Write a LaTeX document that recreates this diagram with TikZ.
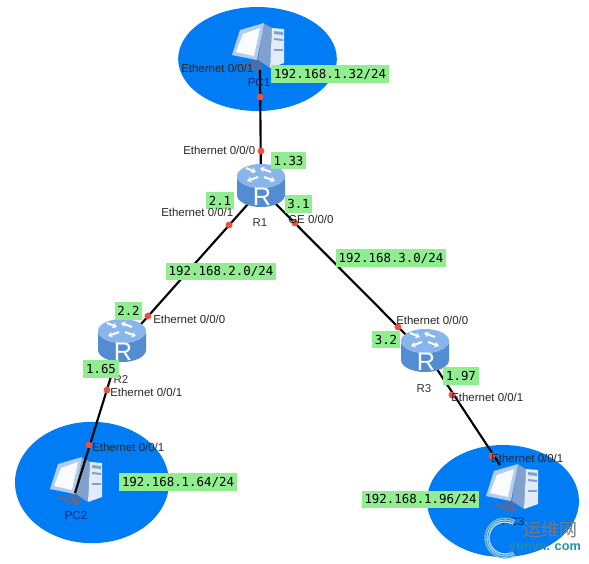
\documentclass[tikz,border=0pt]{standalone}
\usepackage{fontspec}
\setmainfont{Liberation Sans}
\newfontfamily\ipfont{DejaVu Sans Mono}
\newfontfamily\cjkfont{Noto Sans CJK SC}
\usetikzlibrary{shapes.geometric,arrows.meta,positioning,calc}
\definecolor{lanblue}{RGB}{0,125,245}
\definecolor{ipgreen}{RGB}{144,238,144}
\definecolor{portred}{RGB}{236,80,66}
\definecolor{pcnavy}{RGB}{12,40,110}
\definecolor{routertop}{RGB}{136,182,236}
\definecolor{routermid}{RGB}{130,184,242}
\definecolor{routerdark}{RGB}{84,140,210}
\definecolor{pcdark}{RGB}{130,160,205}
\definecolor{pcbase}{RGB}{70,110,170}
\definecolor{pclight}{RGB}{226,235,246}
\definecolor{pcframe}{RGB}{178,206,238}
\definecolor{marktext}{RGB}{120,120,125}
\definecolor{markteal}{RGB}{40,140,170}
\tikzset{
  lan/.style    ={ellipse, fill=lanblue, inner sep=0pt},
  link/.style   ={line width=1.6pt, draw=black},
  port/.style   ={circle, fill=portred, inner sep=0pt, minimum size=5.2pt},
  iflbl/.style  ={font=\fontsize{8.6}{10}\selectfont, inner sep=0pt, text=black!85},
  devlbl/.style ={font=\fontsize{8.6}{10}\selectfont, inner sep=0pt, text=black!80},
  pclbl/.style  ={font=\fontsize{8.6}{10}\selectfont, inner sep=0pt, text=pcnavy},
  iplbl/.style  ={fill=ipgreen, font=\ipfont\fontsize{9.3}{11}\selectfont, inner xsep=2pt,
                  inner ysep=0pt, minimum height=13pt},
  rarrow/.style ={white, line width=1.5pt, -{Stealth[length=3.4pt,width=4.6pt]}},
  router/.pic={
    \path[left color=routerdark, middle color=routermid, right color=routerdark]
      (-24,-10) -- (-24,9) arc[x radius=24,y radius=12,start angle=180,end angle=0]
      -- (24,-10) arc[x radius=24,y radius=12,start angle=0,end angle=180] -- cycle;
    \fill[routertop] (0,-10) ellipse[x radius=24,y radius=12];
    \draw[rarrow] (-15,-18) -- (-5,-14);
    \draw[rarrow] (10,-14) -- (-1,-18);
    \draw[rarrow] (-3,-9) -- (-14,-5);
    \draw[rarrow] (3,-9) -- (14,-5);
    \node[text=white, font=\fontsize{19}{19}\selectfont, inner sep=0pt] (-R) at (1,11) {R};
  },
  computer/.pic={
    \fill[pcbase] (-9,11) -- (1,11) -- (3,20) -- (-6,20) -- cycle;
    \fill[pcbase] (-22,17) -- (-16,15) -- (5,21) -- (0,25) -- cycle;
    \fill[pcdark] (4,-24) -- (13,-19) -- (11,21) -- (-1,13) -- cycle;
    \fill[pclight] (13,-19) -- (25,-18) -- (25,16) -- (11,21) -- cycle;
    \fill[pcdark] (15,-16) -- (24,-15) -- (24,-12) -- (15,-13) -- cycle;
    \fill[pcdark] (15,-9) -- (24,-8) -- (24,-6) -- (15,-7) -- cycle;
    \fill[pcdark] (15,2) -- (24,2) -- (24,4) -- (15,4) -- cycle;
    \fill[pcframe] (-27,8) -- (-19,-17) -- (5,-24) -- (-2,13) -- cycle;
    \fill[white!92!pcframe] (-23,5) -- (-16,-13) -- (1,-19) -- (-5,9) -- cycle;
  }
}
\begin{document}
\begin{tikzpicture}[x=0.75pt, y=-0.75pt]
\useasboundingbox (0,0) rectangle (589,564);
% blue areas
\node[lan, minimum width=119pt, minimum height=78pt] (lan1) at (257.5,59) {};
\node[lan, minimum width=115.5pt, minimum height=91pt] (lan2) at (92,482.5) {};
\node[lan, minimum width=114pt, minimum height=84pt] (lan3) at (503,501) {};
% hosts
\pic at (259,47) {computer};
\pic at (77,481) {computer};
\pic at (513,488) {computer};
\coordinate (pc1) at (260,70);
\coordinate (pc2) at (75,493);
\coordinate (pc3) at (500,465);
\coordinate (R1) at (261,186);
\coordinate (R2) at (122,341);
\coordinate (R3) at (425,351);
% links
\draw[link] (pc1) -- (R1);
\draw[link] ($(R1)+(3,0)$) -- ($(R2)+(4,0)$);
\draw[link] ($(R1)+(-3,0)$) -- ($(R3)+(-3,0)$);
\draw[link] (R2) -- (pc2);
\draw[link] (R3) -- (pc3);
\pic at (R1) {router};
\pic at (R2) {router};
\pic at (R3) {router};
% ports
\node[port] (p1) at (260,97) {};
\node[port] (p2) at (261,151) {};
\node[port] (p3) at (229,225) {};
\node[port] (p4) at (295,223) {};
\node[port] (p5) at (148,316) {};
\node[port] (p6) at (398,327) {};
\node[port] (p7) at (107,390) {};
\node[port] (p8) at (89,445) {};
\node[port] (p9) at (452,395) {};
\node[port] (p10) at (492,456) {};
% device names
\node[pclbl] (n1) at (259,83) {PC1};
\node[pclbl] (n2) at (76,516) {PC2};
\node[pclbl] (n3) at (513,522) {PC3};
\node[devlbl] (n4) at (260,223) {R1};
\node[devlbl] (n5) at (121,379) {R2};
\node[devlbl] (n6) at (424,389) {R3};
% addresses
\node[iplbl] (a1) at (330,74) {192.168.1.32/24};
\node[iplbl] (a2) at (288.5,160.5) {1.33};
\node[iplbl] (a3) at (220,200.5) {2.1};
\node[iplbl] (a4) at (298.5,204) {3.1};
\node[iplbl] (a5) at (221,271.5) {192.168.2.0/24};
\node[iplbl] (a6) at (391,258) {192.168.3.0/24};
\node[iplbl] (a7) at (128.5,311) {2.2};
\node[iplbl] (a8) at (101,369) {1.65};
\node[iplbl] (a9) at (386,339.5) {3.2};
\node[iplbl] (a10) at (461,376) {1.97};
\node[iplbl] (a11) at (178,482) {192.168.1.64/24};
\node[iplbl] (a12) at (420.5,499.5) {192.168.1.96/24};
% interfaces
\node[iflbl, anchor=west] (e1) at (181,68) {Ethernet 0/0/1};
\node[iflbl, anchor=west] (e2) at (183,150) {Ethernet 0/0/0};
\node[iflbl, anchor=west] (e3) at (161,212) {Ethernet 0/0/1};
\node[iflbl, anchor=west] (e4) at (288,219) {GE 0/0/0};
\node[iflbl, anchor=west] (e5) at (153,319) {Ethernet 0/0/0};
\node[iflbl, anchor=west] (e6) at (110,392) {Ethernet 0/0/1};
\node[iflbl, anchor=west] (e7) at (92,447) {Ethernet 0/0/1};
\node[iflbl, anchor=west] (e8) at (396,320) {Ethernet 0/0/0};
\node[iflbl, anchor=west] (e9) at (451,397) {Ethernet 0/0/1};
\node[iflbl, anchor=west] (e10) at (491,458) {Ethernet 0/0/1};
% site mark
\foreach \r/\c in {20/60,18/45,16/30}
  \draw[markteal!\c!white, line width=1pt] (505,538) ++(60:\r) arc[radius=\r,start angle=60,end angle=300];
\node[font=\cjkfont\fontsize{13.5}{14}\selectfont, text=marktext, inner sep=0pt] (m1) at (550,530) {运维网};
\node[font=\bfseries\fontsize{9.5}{10}\selectfont, text=markteal, inner sep=0pt] (m2) at (545,548) {yunvn. com};
\end{tikzpicture}
\end{document}
